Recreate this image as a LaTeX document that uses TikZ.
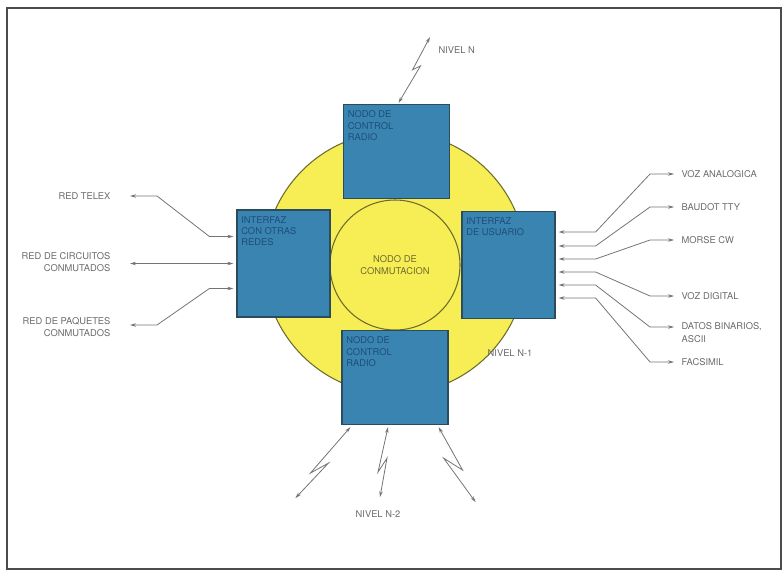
\documentclass[tikz,border=0pt]{standalone}
\usepackage{fontspec}
\setmainfont{TeX Gyre Heros}
\usetikzlibrary{arrows.meta,positioning,calc}
\definecolor{radioblue}{HTML}{3A84B2}
\definecolor{boxline}{HTML}{2A4C5C}
\definecolor{boxtextc}{HTML}{1E4E78}
\definecolor{levelyellow}{HTML}{F7EE55}
\definecolor{levelline}{HTML}{6E6B2C}
\definecolor{labelgray}{HTML}{6A6A6A}
\definecolor{linkgray}{HTML}{747474}
\newdimen\pxu \pxu=0.75pt
\tikzset{
  ctrlbox/.style={draw=boxline, fill=radioblue, line width=0.9pt, minimum width=106\pxu, minimum height=94\pxu, inner sep=0pt},
  ifbox/.style={draw=boxline, fill=radioblue, line width=0.9pt, minimum width=93\pxu, minimum height=107\pxu, inner sep=0pt},
  boxtext/.style={anchor=north west, align=left, text=boxtextc, font=\fontsize{7}{8.5}\selectfont, inner xsep=3.5pt, inner ysep=5pt},
  level/.style={circle, draw=levelline, fill=levelyellow, line width=0.8pt, inner sep=0pt},
  tag/.style={text=labelgray, font=\fontsize{7}{9.5}\selectfont, inner sep=1pt},
  link/.style={{Stealth[length=4.5pt,width=2.6pt]}-{Stealth[length=4.5pt,width=2.6pt]}, draw=linkgray, line width=0.6pt},
  radio/.style={{Stealth[length=4.5pt,width=2.6pt]}-{Stealth[length=4.5pt,width=2.6pt]}, draw=linkgray, line width=0.6pt, line join=miter}
}
\begin{document}
\begin{tikzpicture}[x=\pxu, y=-\pxu]
  \useasboundingbox (0,0) rectangle (784,576);
  \draw[black!70, line width=1.3pt] (7,8) rectangle (781,569);

  % niveles
  \node[level, minimum size=262\pxu] (niveln1) at (395,263) {};
  \node[level, minimum size=130\pxu, text=levelline, font=\fontsize{7}{9}\selectfont, align=center] (conmut) at (395,265) {NODO DE\\CONMUTACION};

  % cajas
  \node[ctrlbox, label={[boxtext]north west:{NODO DE\\CONTROL\\RADIO}}] (ctrltop) at (396.5,151.5) {};
  \node[ctrlbox, label={[boxtext]north west:{NODO DE\\CONTROL\\RADIO}}] (ctrlbot) at (395,377.5) {};
  \node[ifbox, label={[boxtext]north west:{INTERFAZ\\CON OTRAS\\REDES}}] (ifredes) at (283.5,263.5) {};
  \node[ifbox, label={[boxtext]north west:{INTERFAZ\\DE USUARIO}}] (ifusuario) at (508.5,265) {};

  \node[tag] (lbln1) at (510,353) {NIVEL N-1};

  % otras redes
  \node[tag, anchor=east] (telex) at (112,196) {RED TELEX};
  \node[tag, anchor=east, align=right] (circuitos) at (112,262) {RED DE CIRCUITOS\\CONMUTADOS};
  \node[tag, anchor=east, align=right] (paquetes) at (112,327) {RED DE PAQUETES\\CONMUTADOS};

  \draw[link] ($(telex.east)+(18,0)$) -- ++(27,0) -- ($(ifredes.west)+(-27,-27)$) -- ($(ifredes.west)+(-3,-27)$);
  \draw[link] ($(circuitos.east |- ifredes.west)+(18,0)$) -- ($(ifredes.west)+(-3,0)$);
  \draw[link] ($(paquetes.east)+(18,-2)$) -- ++(27,0) -- ($(ifredes.west)+(-27,25)$) -- ($(ifredes.west)+(-3,25)$);

  % usuario
  \node[tag, anchor=west] (vozan) at (680,174) {VOZ ANALOGICA};
  \node[tag, anchor=west] (baudot) at (680,207) {BAUDOT TTY};
  \node[tag, anchor=west] (morse) at (680,240) {MORSE CW};
  \node[tag, anchor=west] (vozdig) at (680,296) {VOZ DIGITAL};
  \node[tag, anchor=north west, align=left] (datos) at (680,321) {DATOS BINARIOS,\\ASCII};
  \node[tag, anchor=west] (facsimil) at (680,362) {FACSIMIL};

  \draw[link] ($(ifusuario.east)+(3,-33)$) -- ++(37,0) -- ($(vozan.west)+(-30,0)$) -- ($(vozan.west)+(-6,0)$);
  \draw[link] ($(ifusuario.east)+(3,-19)$) -- ++(37,0) -- ($(baudot.west)+(-30,0)$) -- ($(baudot.west)+(-6,0)$);
  \draw[link] ($(ifusuario.east)+(3,-6)$) -- ++(37,0) -- ($(morse.west)+(-30,0)$) -- ($(morse.west)+(-6,0)$);
  \draw[link] ($(ifusuario.east)+(3,7)$) -- ++(37,0) -- ($(vozdig.west)+(-30,0)$) -- ($(vozdig.west)+(-6,0)$);
  \draw[link] ($(ifusuario.east)+(3,20)$) -- ++(37,0) -- ($(datos.north west)+(-30,6)$) -- ($(datos.north west)+(-6,6)$);
  \draw[link] ($(ifusuario.east)+(3,33)$) -- ++(37,0) -- ($(facsimil.west)+(-30,0)$) -- ($(facsimil.west)+(-6,0)$);

  % enlaces radio
  \node[tag, anchor=west] (niveln) at (437,50) {NIVEL N};
  \coordinate (antn) at ($(niveln.west)+(-7,-13)$);
  \draw[radio] ($(ctrltop.north)+(2,-1)$) -- ++(22,-37) -- ++(-8,4) -- (antn);

  \node[tag] (niveln2) at (378,514) {NIVEL N-2};
  \draw[radio] ($(ctrlbot.south west)+(9,2)$) -- ++(-40,46) -- ++(18,-10) -- ++(-33,35);
  \draw[radio] ($(ctrlbot.south)+(-7,2)$) -- ++(-10,45) -- ++(9,-14) -- ++(-7,39);
  \draw[radio] ($(ctrlbot.south east)+(-10,2)$) -- ++(24,43) -- ++(-19,-12) -- ++(32,44);
\end{tikzpicture}
\end{document}
